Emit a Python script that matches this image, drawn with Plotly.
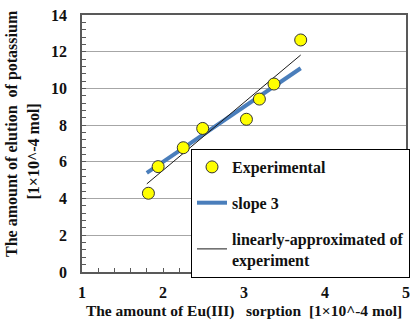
import plotly.graph_objects as go

# Measured points: Eu(III) sorbed vs. potassium eluted, both in 1e-4 mol
eu_sorbed = [1.82, 1.94, 2.25, 2.49, 3.03, 3.19, 3.37, 3.70]
k_eluted = [4.29, 5.74, 6.77, 7.82, 8.32, 9.42, 10.24, 12.64]

# Reference line of slope 3, end points
slope3_x = [1.80, 3.70]
slope3_y = [5.40, 11.10]

# Least-squares line through the measurements, end points
fit_x = [1.80, 3.70]
fit_y = [4.80, 11.82]

FONT = "Liberation Serif, Times New Roman, serif"
AX_COLOR = "#595959"
TXT = "#111111"

fig = go.Figure()

fig.add_trace(go.Scatter(
    x=slope3_x, y=slope3_y, mode="lines", name="slope 3",
    line=dict(color="#4a7ebb", width=4),
    legendgroup="b", legendrank=2,
))
fig.add_trace(go.Scatter(
    x=fit_x, y=fit_y, mode="lines",
    name="linearly-approximated of<br>experiment",
    line=dict(color="#1a1a1a", width=1),
    legendgroup="c", legendrank=3,
))
fig.add_trace(go.Scatter(
    x=eu_sorbed, y=k_eluted, mode="markers", name="Experimental",
    marker=dict(color="#ffff00", size=12, line=dict(color="#333333", width=1)),
    legendgroup="a", legendrank=1,
))

fig.update_layout(
    width=410, height=320,
    margin=dict(l=82, r=4, t=15, b=48, autoexpand=False),
    paper_bgcolor="white", plot_bgcolor="white",
    font=dict(family=FONT, size=16, color=TXT),
    showlegend=True,
    legend=dict(
        x=(191 - 82) / 324, y=(272 - 149) / 257, xanchor="left", yanchor="top",
        bgcolor="white", bordercolor="#000000", borderwidth=1,
        font=dict(family=FONT, size=16, color=TXT, weight="bold"),
        tracegroupgap=12, traceorder="grouped",
    ),
    xaxis=dict(
        range=[1, 5], dtick=1, showgrid=False, zeroline=False,
        showline=True, linecolor=AX_COLOR, linewidth=1.5, mirror=True,
        ticks="inside", ticklen=4, tickcolor=AX_COLOR,
        minor=dict(dtick=0.2, ticks="inside", ticklen=4, tickcolor=AX_COLOR),
        tickfont=dict(family=FONT, size=16, color=TXT, weight="bold"),
        ticklabelstandoff=5,
        title=dict(
            text="The amount of Eu(III)\u00a0\u00a0\u00a0sorption\u00a0\u00a0[1×10^-4 mol]",
            font=dict(family=FONT, size=15.5, color=TXT, weight="bold"),
            standoff=7,
        ),
    ),
    yaxis=dict(
        range=[0, 14], dtick=2, showgrid=True, gridcolor="#a6a6a6", gridwidth=1,
        zeroline=False,
        showline=True, linecolor=AX_COLOR, linewidth=1.5, mirror=True,
        ticks="inside", ticklen=4, tickcolor=AX_COLOR,
        minor=dict(dtick=0.4, ticks="inside", ticklen=4, tickcolor=AX_COLOR, showgrid=False),
        tickfont=dict(family=FONT, size=16, color=TXT, weight="bold"),
        ticklabelstandoff=10,
    ),
    annotations=[
        dict(text="The amount of elution\u00a0\u00a0of potassium", textangle=-90,
             xref="paper", yref="paper", x=-82 / 324, y=(272 - 134) / 257,
             xanchor="left", yanchor="middle", xshift=1, showarrow=False,
             font=dict(family=FONT, size=16, color=TXT, weight="bold")),
        dict(text="[1×10^-4 mol]", textangle=-90,
             xref="paper", yref="paper", x=-82 / 324, y=(272 - 152) / 257,
             xanchor="left", yanchor="middle", xshift=22, showarrow=False,
             font=dict(family=FONT, size=16, color=TXT, weight="bold")),
    ],
)

fig.write_html("out.html")
